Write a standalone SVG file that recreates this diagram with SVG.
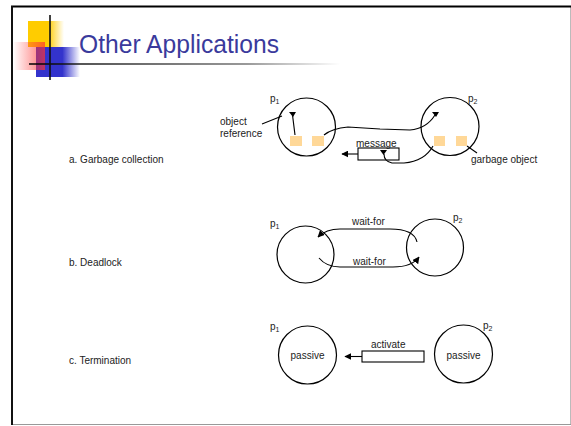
<svg xmlns="http://www.w3.org/2000/svg" width="571" height="426" viewBox="0 0 571 426">
<style>
text{font-family:"Liberation Sans",Arial,sans-serif;fill:#222}
.t{font-size:10px}
.sub{font-size:7px}
.c{fill:none;stroke:#000;stroke-width:1.2}
.ln{fill:none;stroke:#000;stroke-width:1.1}
.box{fill:#fff;stroke:#000;stroke-width:1.1}
.obj{fill:#FFD898}
</style>
<defs>
<marker id="ah" viewBox="0 0 10 10" refX="9" refY="5" markerWidth="7" markerHeight="7" orient="auto" markerUnits="userSpaceOnUse"><path d="M0,0 L10,5 L0,10 z" fill="#000"/></marker>
<linearGradient id="gy" x1="0" x2="1" y1="0" y2="0"><stop offset="0" stop-color="#FFCC00"/><stop offset="0.55" stop-color="#FFCC00"/><stop offset="1" stop-color="#FFCC00" stop-opacity="0"/></linearGradient>
<linearGradient id="gb" x1="0" x2="1" y1="0" y2="0"><stop offset="0" stop-color="#3333CC"/><stop offset="0.6" stop-color="#3333CC"/><stop offset="1" stop-color="#3333CC" stop-opacity="0"/></linearGradient>
<linearGradient id="gr" x1="0" x2="1" y1="0" y2="0"><stop offset="0" stop-color="#FF3333" stop-opacity="0"/><stop offset="1" stop-color="#FF3333" stop-opacity="0.7"/></linearGradient>
<linearGradient id="gl" gradientUnits="userSpaceOnUse" x1="29" y1="64" x2="340" y2="64"><stop offset="0" stop-color="#000"/><stop offset="0.7" stop-color="#777"/><stop offset="1" stop-color="#fff"/></linearGradient>
</defs>
<rect width="571" height="426" fill="#fff"/>
<!-- frame -->
<line x1="570.5" y1="6" x2="570.5" y2="424" stroke="#bbb" stroke-width="1"/>
<line x1="11" y1="424.5" x2="571" y2="424.5" stroke="#999" stroke-width="1"/>
<line x1="11" y1="6.5" x2="571" y2="6.5" stroke="#000" stroke-width="2"/>
<line x1="12" y1="6" x2="12" y2="425" stroke="#111" stroke-width="2"/>
<!-- title decoration -->
<g id="logo">
<rect x="28" y="21" width="36" height="26" fill="url(#gy)"/>
<rect x="36" y="47" width="44" height="30" fill="url(#gb)"/>
<rect x="13" y="42" width="32" height="28" fill="url(#gr)"/>
<line x1="29" y1="64" x2="340" y2="64" stroke="url(#gl)" stroke-width="1.6"/>
<line x1="50" y1="15" x2="50" y2="80" stroke="#111" stroke-width="1.6"/>
</g>
<text x="79" y="53" style="font-size:25px;fill:#3a3a9c" textLength="200" lengthAdjust="spacingAndGlyphs">Other Applications</text>
<!-- row labels -->
<text class="t" x="69" y="163">a. Garbage collection</text>
<text class="t" x="69" y="266">b. Deadlock</text>
<text class="t" x="69" y="364">c. Termination</text>
<!-- a. garbage collection -->
<g id="a-p1">
<circle class="c" cx="306.5" cy="127" r="29"/>
<rect class="obj" x="290" y="136" width="12" height="10"/>
<rect class="obj" x="312" y="136" width="12" height="10"/>
<text class="t" x="270" y="102">p<tspan class="sub" dy="2">1</tspan></text>
</g>
<g id="a-p2">
<circle class="c" cx="450" cy="126.5" r="29"/>
<rect class="obj" x="434" y="136" width="11" height="10"/>
<rect class="obj" x="456" y="136" width="11" height="10"/>
<text class="t" x="468" y="102">p<tspan class="sub" dy="2">2</tspan></text>
</g>
<g id="a-msg">
<rect class="box" x="358" y="148" width="41" height="12"/>
<text class="t" x="356" y="147">message</text>
</g>
<text class="t" x="220" y="125">object</text>
<text class="t" x="220" y="137">reference</text>
<text class="t" x="471" y="163">garbage object</text>
<!-- b. deadlock -->
<g id="b-p1">
<circle class="c" cx="305.5" cy="254.5" r="28.5"/>
<text class="t" x="270" y="227">p<tspan class="sub" dy="2">1</tspan></text>
</g>
<g id="b-p2">
<circle class="c" cx="435" cy="247.5" r="28.5"/>
<text class="t" x="453" y="221">p<tspan class="sub" dy="2">2</tspan></text>
</g>
<text class="t" x="352" y="225">wait-for</text>
<text class="t" x="353" y="265">wait-for</text>
<!-- c. termination -->
<g id="c-p1">
<circle class="c" cx="307.5" cy="355" r="29"/>
<text class="t" x="307.5" y="359" text-anchor="middle">passive</text>
<text class="t" x="270" y="330">p<tspan class="sub" dy="2">1</tspan></text>
</g>
<g id="c-p2">
<circle class="c" cx="463.5" cy="354" r="29"/>
<text class="t" x="463.5" y="359" text-anchor="middle">passive</text>
<text class="t" x="483" y="329">p<tspan class="sub" dy="2">2</tspan></text>
</g>
<g id="c-activate">
<rect class="box" x="362" y="351" width="62" height="11"/>
<text class="t" x="371" y="348">activate</text>
</g>
<!-- connectors -->
<g id="connectors">
<!-- object reference -->
<line class="ln" x1="295" y1="135" x2="292.5" y2="115"/>
<polygon points="289,112 296,112 293,117" fill="#000"/>
<line class="ln" x1="262" y1="124" x2="282" y2="116"/>
<!-- message from p1 to p2 -->
<path class="ln" d="M324,135 C330,130 336,128 348,127 L380,129 L410,130 C422,129 430,123 435,115"/>
<polygon points="432,112 439,112 436,117" fill="#000"/>
<!-- garbage object line -->
<line class="ln" x1="467" y1="146" x2="477" y2="153"/>
<!-- message in transit -->
<path class="ln" d="M433,146 C427,157 416,162 404,163 L392,163 C387,162 384,159 384,154"/>
<polygon points="380,150 387,150 383.5,155" fill="#000"/>
<line class="ln" x1="358" y1="154" x2="342" y2="154" marker-end="url(#ah)"/>
<!-- wait-for -->
<path class="ln" d="M417,242 C415,233 405,229 390,229 L340,229 C330,229 323,232 318,237" marker-end="url(#ah)"/>
<path class="ln" d="M319,258 C324,264 330,267 340,267 L393,267 C405,267 414,264 419,257" marker-end="url(#ah)"/>
<!-- activate -->
<line class="ln" x1="362" y1="356.5" x2="345" y2="356.5" marker-end="url(#ah)"/>
</g>
</svg>
